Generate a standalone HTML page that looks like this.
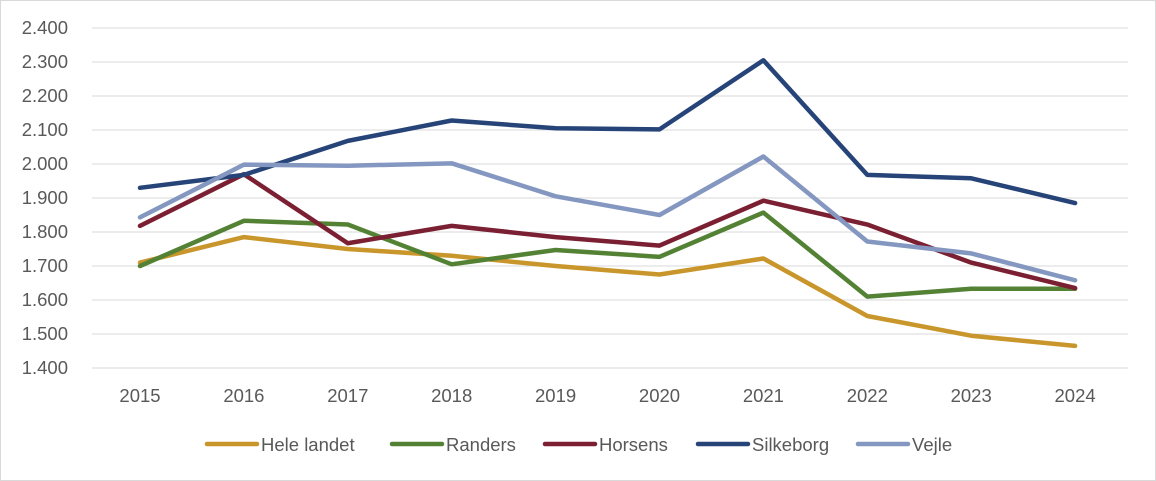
<!DOCTYPE html>
<html><head><meta charset="utf-8"><style>
body{margin:0;background:#fff;}
svg{display:block;font-family:"Liberation Sans",sans-serif;}
</style></head><body>
<svg id="c" width="1156" height="481" xmlns="http://www.w3.org/2000/svg">
<rect x="0.5" y="0.5" width="1155" height="480" fill="#fff" stroke="#d9d9d9"/>
</svg>
<script>
const s=document.getElementById('c'),NS='http://www.w3.org/2000/svg';
function el(t,a,txt){const e=document.createElementNS(NS,t);for(const k in a)e.setAttribute(k,a[k]);if(txt!=null)e.textContent=txt;s.appendChild(e);return e;}
const Y=v=>28+(2.4-v)*340, X=i=>140+i*103.9;
for(let k=0;k<=10;k++){const v=1.4+k*0.1,y=Y(v);
el('line',{x1:92,x2:1128,y1:y,y2:y,stroke:'#d9d9d9','stroke-width':1});
el('text',{x:68,y:y+6,'text-anchor':'end','font-size':18.5,fill:'#595959'},v.toFixed(3));}
for(let i=0;i<10;i++)el('text',{x:X(i),y:402,'text-anchor':'middle','font-size':18.5,fill:'#595959'},2015+i);
const S=[
['Hele landet','#C9962C',[1.710,1.785,1.750,1.730,1.700,1.675,1.722,1.553,1.495,1.465],207],
['Randers','#548235',[1.700,1.833,1.822,1.705,1.747,1.727,1.857,1.610,1.633,1.633],392],
['Horsens','#7B1F32',[1.818,1.970,1.767,1.818,1.785,1.760,1.892,1.822,1.710,1.635],545],
['Silkeborg','#264478',[1.930,1.968,2.068,2.128,2.105,2.102,2.305,1.968,1.958,1.885],698],
['Vejle','#8497C0',[1.843,1.998,1.995,2.002,1.905,1.850,2.022,1.772,1.737,1.658],858]];
for(const [n,c,d,lx] of S){
el('polyline',{points:d.map((v,i)=>X(i)+','+Y(v)).join(' '),fill:'none',stroke:c,'stroke-width':4.5,'stroke-linejoin':'round','stroke-linecap':'round'});
el('line',{x1:lx,x2:lx+50,y1:444,y2:444,stroke:c,'stroke-width':4.5,'stroke-linecap':'round'});
el('text',{x:lx+54,y:451,'font-size':18.5,fill:'#595959'},n);}
</script>
</body></html>
